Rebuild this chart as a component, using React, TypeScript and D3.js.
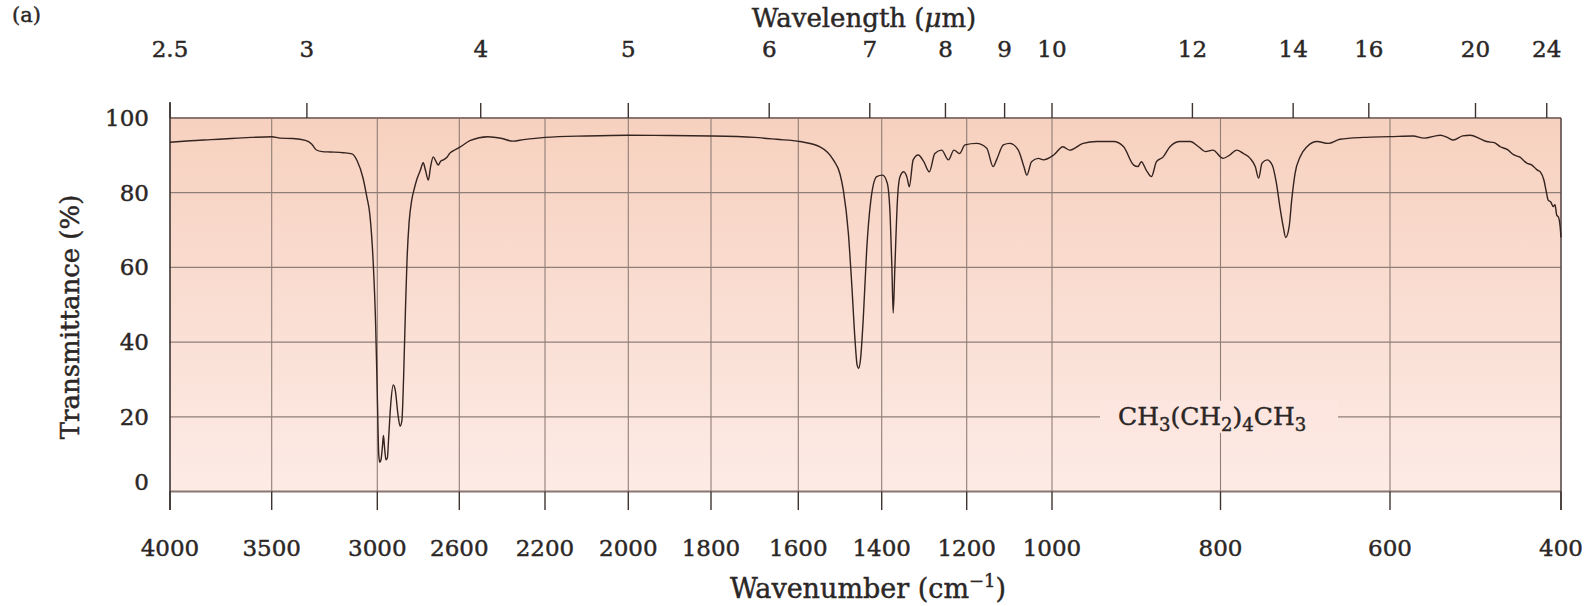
import React from "react";
import * as d3 from "d3";

// Spectrum of hexane, CH3(CH2)4CH3
const wavenumbers = [
  4000, 3950, 3900, 3800, 3700, 3600, 3500, 3460, 3400, 3340, 3310, 3290, 3260, 3224, 3160, 3120,
  3095, 3068, 3050, 3035, 3020, 3008, 3000, 2993, 2988, 2982, 2975, 2970, 2965, 2958, 2951, 2944,
  2935, 2922, 2912, 2900, 2889, 2880, 2872, 2862, 2855, 2845, 2832, 2820, 2808, 2790, 2776, 2765,
  2751, 2740, 2727, 2715, 2703, 2690, 2678, 2660, 2646, 2620, 2597, 2548, 2467, 2400, 2350, 2300,
  2200, 2100, 2000, 1900, 1800, 1700, 1650, 1596, 1548, 1516, 1500, 1492, 1480, 1472, 1464, 1459,
  1455, 1451, 1444, 1436, 1426, 1412, 1398, 1387, 1380, 1376, 1373, 1369, 1363, 1357, 1348, 1340,
  1335, 1326, 1314, 1301, 1288, 1275, 1259, 1243, 1230, 1217, 1204, 1177, 1153, 1138, 1130, 1114,
  1099, 1079, 1066, 1059, 1048, 1032, 1020, 998, 987, 979, 963, 947, 927, 915, 903, 898,
  894, 888, 882, 876, 868, 860, 848, 836, 826, 818, 809, 797, 789, 781, 773, 765,
  759, 755, 751, 745, 739, 734, 730, 726, 723, 719, 716, 712, 706, 698, 686, 673,
  659, 631, 600, 573, 560, 541, 533, 526, 515, 506, 495, 487, 478, 471, 463, 455,
  448, 440, 434, 428, 424, 420, 417, 415, 412, 409, 407, 405, 403, 401, 400,
];
const transmittance = [
  93.5, 93.7, 93.9, 94.2, 94.5, 94.8, 95.0, 94.6, 94.5, 94.0, 93.0, 91.5, 91.0, 90.9, 90.7, 90.4,
  88.5, 84, 79, 74, 62, 45, 26, 10, 7.8, 8.5, 12, 15, 12, 8.5, 9, 15,
  23, 28.5, 27, 21, 17.5, 19, 30, 50, 62, 72, 78, 81, 83.4, 86, 88, 86,
  83.4, 87, 89.6, 88.5, 87.4, 88.5, 88.8, 89.5, 90.6, 91.5, 92.2, 94, 95, 94.5, 93.8, 94.2,
  94.8, 95.2, 95.4, 95.3, 95.2, 94.8, 94.3, 93.7, 92.3, 88.8, 85, 80.7, 69.2, 55.8, 40.6, 33.9,
  33, 35.2, 46.7, 64.7, 78, 84.3, 84.7, 82.6, 73.5, 60, 47.8, 60, 78, 84.3, 85.6, 83.9,
  81.6, 88.8, 90.1, 88.3, 85.6, 90.5, 91.4, 88.8, 91.4, 90.5, 92.8, 93.2, 91.9, 87, 88.8, 92.8,
  93.2, 91.4, 87, 84.7, 88.3, 89.2, 88.8, 90.1, 92.3, 91.4, 93.2, 93.7, 93.7, 92.3, 87.4, 87,
  88.3, 86, 84.3, 88.3, 89.6, 92.3, 93.7, 93.7, 92.3, 91, 91.4, 89.2, 90.1, 91.4, 90.5, 89.2,
  87, 83.9, 87.9, 88.8, 87.4, 82.5, 76.3, 70.9, 68, 70.9, 78, 85.2, 89.6, 92.3, 93.7, 93.2,
  94.3, 94.8, 95, 95.2, 94.6, 95.4, 94.8, 94.1, 95.2, 95.4, 94.5, 93.7, 93.4, 92.3, 91.6, 90.1,
  89.5, 87.9, 87.4, 86.1, 85.5, 83.4, 80, 78, 77.5, 76.3, 76.8, 74, 73.5, 70.9, 68,
];

const wavenumberTicks = [4000, 3500, 3000, 2600, 2200, 2000, 1800, 1600, 1400, 1200, 1000, 800, 600, 400];
const wavelengthTicks = [2.5, 3, 4, 5, 6, 7, 8, 9, 10, 12, 14, 16, 20, 24];
const transmittanceTicks = [0, 20, 40, 60, 80, 100];

const titleLeft = "Transmittance (%)";
const panelLabel = "(a)";

// the printed chart uses a piecewise (non-linear) wavenumber axis
const axisPixelStops = [170, 271.7, 377.3, 459.3, 545, 628.3, 711, 798.3, 881.7, 966.7, 1052, 1220.5, 1390, 1561];

const FONT = "'DejaVu Serif', serif";
const TEXT = "#2b2726";
const GRID = "#8f7e78";

const textStyle = {
  fontFamily: FONT,
  fill: TEXT,
  stroke: TEXT,
  strokeWidth: 0.45,
} as const;

export default function App() {
  const x = d3.scaleLinear().domain(wavenumberTicks).range(axisPixelStops);
  const y = d3.scaleLinear().domain([0, 100]).range([491.5, 118]);
  const x0 = x(4000);
  const x1 = x(400);
  const yTop = y(100);
  const yBot = y(0);

  const pts: [number, number][] = wavenumbers.map((w, i) => [w, transmittance[i]]);
  const line = d3
    .line<[number, number]>()
    .x((d) => x(d[0]))
    .y((d) => y(d[1]))
    .curve(d3.curveMonotoneX);

  const gridX = wavenumberTicks.filter((w) => w !== 4000 && w !== 400);
  const gridY = transmittanceTicks.filter((t) => t !== 0 && t !== 100);

  return (
    <svg
      width={1587}
      height={606}
      style={{ position: "absolute", left: 0, top: 0, background: "#fff" }}
    >
      <defs>
        <linearGradient id="bg" x1="0" y1="0" x2="0" y2="1">
          <stop offset="0%" stopColor="#f7d1bf" />
          <stop offset="55%" stopColor="#fadfd4" />
          <stop offset="100%" stopColor="#fdebe6" />
        </linearGradient>
      </defs>
      <rect x={x0} y={yTop} width={x1 - x0} height={yBot - yTop} fill="url(#bg)" />

      {/* grid */}
      {gridY.map((t) => (
        <line key={"gy" + t} x1={x0} x2={x1} y1={y(t)} y2={y(t)} stroke={GRID} strokeWidth={1.2} />
      ))}
      {gridX.map((w) => (
        <line key={"gx" + w} x1={x(w)} x2={x(w)} y1={yTop} y2={yBot} stroke={GRID} strokeWidth={1.1} />
      ))}

      {/* compound label masking the 20% line */}
      <rect x={1100} y={y(20) - 16} width={238} height={32} fill="#fce6df" />
      <text x={1118} y={y(20) + 8} fontSize={25} {...textStyle}>
        CH<tspan dy={6} fontSize={18}>3</tspan>
        <tspan dy={-6}>(CH</tspan>
        <tspan dy={6} fontSize={18}>2</tspan>
        <tspan dy={-6}>)</tspan>
        <tspan dy={6} fontSize={18}>4</tspan>
        <tspan dy={-6}>CH</tspan>
        <tspan dy={6} fontSize={18}>3</tspan>
      </text>

      {/* frame */}
      <line x1={x0} x2={x1} y1={yTop} y2={yTop} stroke="#8a7670" strokeWidth={2.2} />
      <line x1={x0} x2={x1} y1={yBot} y2={yBot} stroke="#8a7670" strokeWidth={2.2} />
      <line x1={x0} x2={x0} y1={102} y2={510} stroke="#3d3431" strokeWidth={1.6} />
      <line x1={x1} x2={x1} y1={yTop} y2={510} stroke="#5a4c48" strokeWidth={1.6} />

      {/* spectrum */}
      <path d={line(pts) || ""} fill="none" stroke="#34231f" strokeWidth={1.4} strokeLinejoin="round" />

      {/* bottom axis */}
      {wavenumberTicks.map((w) => (
        <g key={"bt" + w}>
          <line x1={x(w)} x2={x(w)} y1={yBot} y2={510} stroke="#3d3431" strokeWidth={1.4} />
          <text x={x(w)} y={556} textAnchor="middle" fontSize={23} {...textStyle}>
            {w}
          </text>
        </g>
      ))}
      <text x={868} y={598} textAnchor="middle" fontSize={27} {...textStyle}>
        Wavenumber (cm
        <tspan dy={-11} fontSize={18}>{"\u22121"}</tspan>
        <tspan dy={11}>)</tspan>
      </text>

      {/* top axis */}
      {wavelengthTicks.map((l) => (
        <g key={"tt" + l}>
          <line x1={x(10000 / l)} x2={x(10000 / l)} y1={103} y2={yTop} stroke="#3d3431" strokeWidth={1.4} />
          <text x={x(10000 / l)} y={57} textAnchor="middle" fontSize={23} {...textStyle}>
            {l}
          </text>
        </g>
      ))}
      <text x={864} y={27} textAnchor="middle" fontSize={26} {...textStyle}>
        Wavelength (<tspan fontStyle="italic">{"\u03bc"}</tspan>m)
      </text>
      <text x={12} y={22} fontSize={21} {...textStyle}>
        {panelLabel}
      </text>

      {/* left axis */}
      {transmittanceTicks.map((t) => (
        <text
          key={"yl" + t}
          x={149}
          y={y(t) + 8 - (t === 0 ? 10 : 0)}
          textAnchor="end"
          fontSize={23}
          {...textStyle}
        >
          {t}
        </text>
      ))}
      <text
        transform={`translate(79, 317) rotate(-90)`}
        textAnchor="middle"
        fontSize={26}
        {...textStyle}
      >
        {titleLeft}
      </text>
    </svg>
  );
}
